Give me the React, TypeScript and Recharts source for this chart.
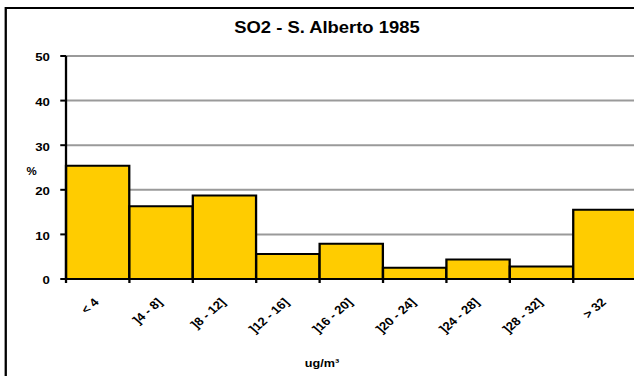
import React from "react";
import { BarChart, Bar, XAxis, YAxis, CartesianGrid } from "recharts";

// concentration classes (ug/m3) and frequency (%)
const ranges = ["< 4", "]4 - 8]", "]8 - 12]", "]12 - 16]", "]16 - 20]", "]20 - 24]", "]24 - 28]", "]28 - 32]", "> 32"];
const percent = [25.4, 16.3, 18.7, 5.6, 7.9, 2.5, 4.4, 2.8, 15.5];
const yTicks = [0, 10, 20, 30, 40, 50];

const data = ranges.map((r, i) => ({ range: r, value: percent[i] }));

const FONT = "'Liberation Sans', Arial, sans-serif";
// the original picture is stretched horizontally
const STRETCH = 1.15;
const W = 600;
const H = 376;
const PLOT_LEFT = 57.4;
const PLOT_RIGHT = 553.6;
const BAND = (PLOT_RIGHT - PLOT_LEFT) / ranges.length;

const XTick = (props: any) => {
  const x = Number(props.x);
  const y = Number(props.y);
  const left = x - BAND / 2;
  return (
    <g>
      <line x1={left} x2={left} y1={y - 6} y2={y - 2} stroke="#000" strokeWidth={2} />
      <g transform={`translate(${x + 1.7} ${y + 18})`}>
        <text
          x={0}
          y={0}
          textAnchor="end"
          transform="rotate(-45)"
          fontFamily={FONT}
          fontSize={11.5}
          fontWeight="bold"
          fill="#000"
        >
          {props.payload.value}
        </text>
      </g>
    </g>
  );
};

const YTick = (props: any) => {
  const { x, y, payload } = props;
  return (
    <text x={x} y={y + 5.5} textAnchor="end" fontFamily={FONT} fontSize={11.5} fontWeight="bold" fill="#000">
      {payload.value}
    </text>
  );
};

export default function App() {
  return (
    <div style={{ position: "fixed", left: 0, top: 0, width: 634, height: 376, overflow: "hidden", background: "#fff" }}>
      <div
        style={{
          position: "absolute",
          left: 0,
          top: 0,
          width: W,
          height: H,
          transform: `scaleX(${STRETCH})`,
          transformOrigin: "0 0",
        }}
      >
        <div
          style={{
            position: "absolute",
            left: 4.3,
            top: 7.2,
            width: 700,
            height: 500,
            border: "2px solid #000",
            boxSizing: "border-box",
          }}
        />
        <BarChart
          width={W}
          height={H}
          data={data}
          margin={{ top: 56, right: W - PLOT_RIGHT, left: 0, bottom: 0 }}
          barCategoryGap={0}
          style={{ position: "absolute", left: 0, top: 0 }}
        >
          <CartesianGrid vertical={false} stroke="#9a9a9a" strokeWidth={2} />
          <XAxis
            dataKey="range"
            interval={0}
            height={H - 279}
            tickSize={4}
            tickMargin={2}
            tickLine={false}
            axisLine={{ stroke: "#000", strokeWidth: 2 }}
            tick={<XTick />}
          />
          <YAxis
            width={PLOT_LEFT}
            domain={[0, 50]}
            ticks={yTicks}
            interval={0}
            tickSize={5}
            tickMargin={9}
            tickLine={{ stroke: "#000", strokeWidth: 2 }}
            axisLine={{ stroke: "#000", strokeWidth: 2 }}
            tick={<YTick />}
          />
          <Bar dataKey="value" fill="#FFCC00" stroke="#000" strokeWidth={2} isAnimationActive={false} />
        </BarChart>
        <svg width={W} height={H} style={{ position: "absolute", left: 0, top: 0, pointerEvents: "none" }}>
          <text x={284.3} y={33.3} textAnchor="middle" fontFamily={FONT} fontSize={16} fontWeight="bold" fill="#000">
            SO2 - S. Alberto 1985
          </text>
          <text x={27.4} y={175} textAnchor="middle" fontFamily={FONT} fontSize={10} fontWeight="bold" fill="#000">
            %
          </text>
          <text x={280} y={367} textAnchor="middle" fontFamily={FONT} fontSize={11} fontWeight="bold" fill="#000">
            ug/m³
          </text>
        </svg>
      </div>
    </div>
  );
}
